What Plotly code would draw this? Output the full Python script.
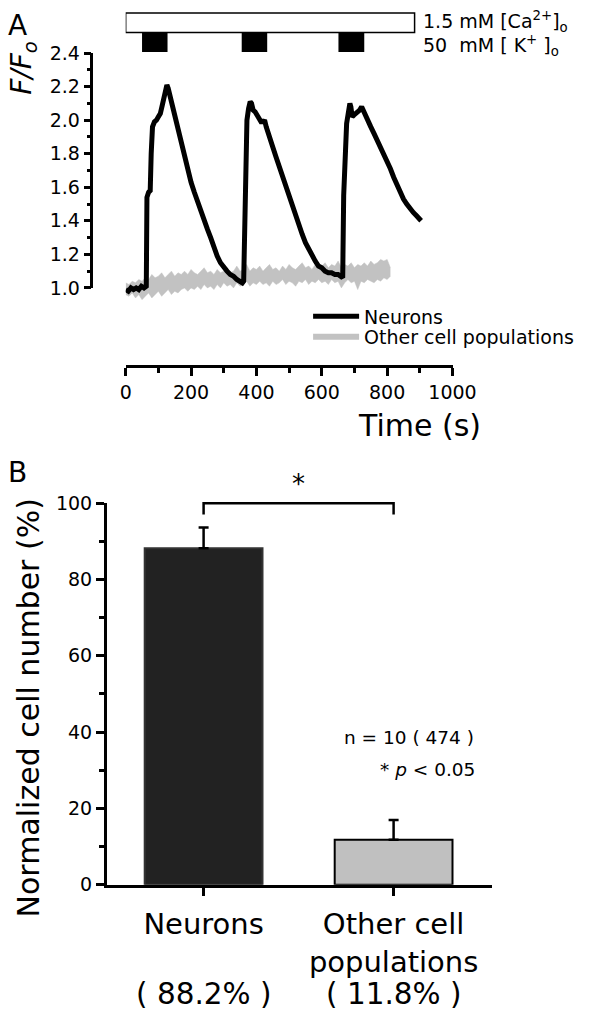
import plotly.graph_objects as go

W, H = 600, 1021
def fx(p):
    return p / W
def fy(p):
    return 1 - p / H

FONT = "DejaVu Sans"

# ---------------- Panel A data ----------------
neuron_t = [0, 8, 16, 24, 32, 40, 48, 56, 63, 65,
            70, 75, 78, 82, 88, 94, 100, 106, 112, 117,
            122, 126, 130, 135, 140, 146, 152, 160, 170, 180,
            190, 200, 210, 220, 230, 240, 250, 260, 270, 280,
            290, 300, 310, 320, 330, 340, 350, 357, 361, 364,
            367, 371, 376, 381, 385, 390, 396, 402, 408, 414,
            420, 425, 430, 436, 442, 450, 460, 470, 480, 490,
            500, 510, 520, 530, 540, 550, 560, 570, 580, 590,
            600, 610, 620, 630, 640, 650, 658, 664, 667, 671,
            676, 681, 686, 689, 693, 698, 704, 710, 716, 722,
            728, 734, 740, 750, 760, 770, 780, 790, 800, 810,
            820, 830, 840, 850, 860, 870, 880, 890, 900, 904]
neuron_f = [0.99, 0.98, 1.00, 0.99, 1.00, 0.99, 1.01, 1.00, 1.01, 1.54,
            1.57, 1.58, 1.80, 1.96, 1.99, 2.00, 2.02, 2.04, 2.09, 2.14,
            2.19, 2.21, 2.19, 2.15, 2.10, 2.04, 1.99, 1.93, 1.85, 1.77,
            1.70, 1.63, 1.57, 1.51, 1.45, 1.40, 1.35, 1.30, 1.24, 1.19,
            1.15, 1.12, 1.10, 1.08, 1.07, 1.05, 1.04, 1.03, 1.04, 1.50,
            1.85, 2.00, 2.07, 2.11, 2.10, 2.06, 2.05, 2.03, 2.01, 1.99,
            1.99, 2.00, 1.96, 1.93, 1.89, 1.84, 1.78, 1.72, 1.66, 1.60,
            1.54, 1.48, 1.42, 1.37, 1.32, 1.27, 1.23, 1.19, 1.16, 1.13,
            1.12, 1.10, 1.09, 1.09, 1.08, 1.08, 1.07, 1.06, 1.55, 1.86,
            1.98, 2.04, 2.10, 2.08, 2.02, 2.03, 2.04, 2.05, 2.06, 2.08,
            2.05, 2.04, 2.00, 1.96, 1.92, 1.88, 1.84, 1.80, 1.75, 1.71,
            1.66, 1.61, 1.57, 1.53, 1.50, 1.47, 1.45, 1.43, 1.41, 1.40]

other_t = [0, 10, 20, 30, 40, 50, 60, 70, 80, 90,
           100, 110, 120, 130, 140, 150, 160, 170, 180, 190,
           200, 210, 220, 230, 240, 250, 260, 270, 280, 290,
           300, 310, 320, 330, 340, 350, 360, 370, 380, 390,
           400, 410, 420, 430, 440, 450, 460, 470, 480, 490,
           500, 510, 520, 530, 540, 550, 560, 570, 580, 590,
           600, 610, 620, 630, 640, 650, 660, 670, 680, 690,
           700, 710, 720, 730, 740, 750, 760, 770, 780, 790,
           800, 810]
other_upper = [1.03, 1.02, 1.04, 1.03, 1.05, 1.04, 1.06, 1.05, 1.08, 1.06,
               1.07, 1.09, 1.06, 1.08, 1.10, 1.07, 1.09, 1.08, 1.10, 1.08,
               1.11, 1.09, 1.08, 1.10, 1.12, 1.09, 1.10, 1.08, 1.11, 1.09,
               1.10, 1.12, 1.09, 1.10, 1.13, 1.10, 1.11, 1.14, 1.10, 1.12,
               1.11, 1.13, 1.10, 1.12, 1.14, 1.11, 1.12, 1.10, 1.13, 1.11,
               1.14, 1.12, 1.11, 1.13, 1.15, 1.12, 1.13, 1.11, 1.14, 1.12,
               1.13, 1.15, 1.12, 1.14, 1.13, 1.16, 1.12, 1.14, 1.13, 1.15,
               1.12, 1.14, 1.13, 1.15, 1.13, 1.16, 1.14, 1.15, 1.17, 1.16,
               1.17, 1.12]
other_lower = [0.96, 0.95, 0.97, 0.94, 0.96, 0.93, 0.95, 0.97, 0.94, 0.96,
               0.98, 0.95, 0.97, 0.99, 0.96, 0.98, 0.97, 0.99, 1.00, 0.98,
               1.00, 0.99, 1.01, 0.99, 1.02, 1.00, 1.01, 0.99, 1.02, 1.00,
               1.03, 1.01, 1.02, 1.00, 1.03, 1.01, 1.02, 1.04, 1.01, 1.03,
               1.02, 1.04, 1.02, 1.03, 1.01, 1.04, 1.02, 1.03, 1.05, 1.02,
               1.04, 1.03, 1.01, 1.04, 1.03, 1.05, 1.02, 1.04, 1.03, 1.05,
               1.03, 1.04, 1.02, 1.05, 1.03, 1.04, 1.00, 1.03, 1.05, 1.03,
               1.04, 0.99, 1.04, 1.03, 1.05, 1.04, 1.03, 1.05, 1.04, 1.06,
               1.05, 1.07]

ca_on, ca_off = 0, 884
k_on = [50, 355, 651]
k_off = [128, 433, 730]

# ---------------- Panel B data ----------------
categories = ["Neurons", "Other cell populations"]
cat_ticktext = ["Neurons", "Other cell<br>populations"]
pct_mean = [88.2, 11.8]
pct_err = [5.4, 5.2]
n_cells = 10
n_total = 474
sig_level = 100
sig_drop = 3

# ---------------- geometry (pixels) ----------------
A_X0, A_X1 = 126, 470          # time 0 .. 1000
A_Y1, A_Y24 = 283, 43          # F/F0 1.0 .. 2.4
A_YAX = 92
A_XAX = 363
A_SCALE = (A_Y1 - A_Y24) / 1.4
A_DATA_BOTTOM = 305

B_Y0, B_Y100 = 893, 503
B_SCALE = (B_Y0 - B_Y100) / 100.0
B_XL, B_XR = 106, 512
B_C0, B_C1 = 208, 408
B_DATA_TOP = 465

fig = go.Figure()

# gray band (other cell populations)
fig.add_trace(go.Scatter(x=other_t, y=other_lower, mode="lines",
                         line=dict(color="#c2c2c2", width=0.5),
                         showlegend=False, hoverinfo="skip",
                         xaxis="x", yaxis="y3"))
fig.add_trace(go.Scatter(x=other_t, y=other_upper, mode="lines",
                         line=dict(color="#c2c2c2", width=0.5),
                         fill="tonexty", fillcolor="#c2c2c2",
                         showlegend=False, hoverinfo="skip",
                         xaxis="x", yaxis="y3"))
# neurons
fig.add_trace(go.Scatter(x=neuron_t, y=neuron_f, mode="lines",
                         line=dict(color="black", width=5),
                         name="Neurons", legend="legend",
                         xaxis="x", yaxis="y3"))
# legend entry for the gray band
fig.add_trace(go.Scatter(x=[None], y=[None], mode="lines",
                         line=dict(color="#c2c2c2", width=6),
                         name="Other cell populations", legend="legend2",
                         xaxis="x4", yaxis="y"))

# bars
fig.add_trace(go.Bar(x=categories, y=pct_mean, width=0.62,
                     marker=dict(color=["#222222", "#c0c0c0"],
                                 line=dict(color=["#333333", "black"], width=2)),
                     error_y=dict(type="data", array=pct_err,
                                  arrayminus=[0, 0], symmetric=False,
                                  color="black", thickness=2.5, width=5),
                     showlegend=False, xaxis="x2", yaxis="y2"))
# significance bracket
fig.add_trace(go.Scatter(x=[categories[0], categories[0], categories[1], categories[1]],
                         y=[sig_level - sig_drop, sig_level, sig_level, sig_level - sig_drop],
                         mode="lines", line=dict(color="black", width=2.5),
                         showlegend=False, hoverinfo="skip",
                         xaxis="x2", yaxis="y4"))

axis_common = dict(showline=True, linecolor="black", linewidth=2.5,
                   ticks="outside", tickcolor="black", tickwidth=2.5,
                   showgrid=False, zeroline=False,
                   tickfont=dict(family=FONT, size=19, color="black"))

# stimulus shapes
shapes = [dict(type="rect", xref="x", yref="paper", x0=ca_on, x1=ca_off,
               y0=fy(22), y1=fy(2), line=dict(color="black", width=1.5),
               fillcolor="white")]
for a, b in zip(k_on, k_off):
    shapes.append(dict(type="rect", xref="x", yref="paper", x0=a, x1=b,
                       y0=fy(42), y1=fy(22), line=dict(width=0),
                       fillcolor="black"))

annotations = [
    dict(text="A", x=fx(0), y=fy(15), xref="paper", yref="paper",
         xanchor="left", yanchor="middle", showarrow=False,
         font=dict(family=FONT, size=28, color="black")),
    dict(text="B", x=fx(0), y=fy(472), xref="paper", yref="paper",
         xanchor="left", yanchor="middle", showarrow=False,
         font=dict(family=FONT, size=28, color="black")),
    dict(text="<i>F/F<sub>o</sub></i>", x=fx(19), y=fy(58), xref="paper", yref="paper",
         xanchor="center", yanchor="middle", showarrow=False, textangle=-90,
         font=dict(family=FONT, size=28, color="black")),
    dict(text="Time (s)", x=fx(435), y=fy(424), xref="paper", yref="paper",
         xanchor="center", yanchor="middle", showarrow=False,
         font=dict(family=FONT, size=30, color="black")),
    dict(text="1.5 mM [Ca<sup>2+</sup>]<sub>o</sub>", x=fx(437), y=fy(11),
         xref="paper", yref="paper", xanchor="left", yanchor="middle",
         showarrow=False, font=dict(family=FONT, size=19, color="black")),
    dict(text="50\u00a0 mM [\u00a0K<sup>+</sup>\u00a0]<sub>o</sub>", x=fx(437), y=fy(35),
         xref="paper", yref="paper", xanchor="left", yanchor="middle",
         showarrow=False, font=dict(family=FONT, size=19, color="black")),
    dict(text="Normalized cell number (%)", x=fx(24), y=fy(712),
         xref="paper", yref="paper", xanchor="center", yanchor="middle",
         showarrow=False, textangle=-90,
         font=dict(family=FONT, size=30, color="black")),
    dict(text="*", x=0.5, y=sig_level, xref="x2", yref="y4", yshift=19,
         xanchor="center", yanchor="middle", showarrow=False,
         font=dict(family=FONT, size=26, color="black")),
    dict(text=f"n = {n_cells} ( {n_total} )", x=fx(495), y=fy(743),
         xref="paper", yref="paper", xanchor="right", yanchor="middle",
         showarrow=False, font=dict(family=FONT, size=18.5, color="black")),
    dict(text="* <i>p</i> < 0.05", x=fx(496), y=fy(775),
         xref="paper", yref="paper", xanchor="right", yanchor="middle",
         showarrow=False, font=dict(family=FONT, size=18.5, color="black")),
]
for i, v in enumerate(pct_mean):
    annotations.append(dict(text=f"( {v}% )", x=i, y=fy(1005), xref="x2", yref="paper",
                            xanchor="center", yanchor="middle", showarrow=False,
                            font=dict(family=FONT, size=29.5, color="black")))

legend_common = dict(xanchor="left", yanchor="middle", bgcolor="rgba(0,0,0,0)",
                     borderwidth=0, itemwidth=46, tracegroupgap=0,
                     font=dict(family=FONT, size=19, color="black"))

fig.update_layout(
    width=W, height=H, autosize=False,
    margin=dict(l=0, r=0, t=0, b=0, pad=0),
    paper_bgcolor="white", plot_bgcolor="rgba(0,0,0,0)",
    font=dict(family=FONT, color="black"),
    showlegend=True,
    legend=dict(x=fx(318), y=fy(312), **legend_common),
    legend2=dict(x=fx(318), y=fy(333), **legend_common),
    # panel A: visible time axis (free, below the data)
    xaxis=dict(domain=[fx(A_X0), fx(A_X1)], range=[0, 1000], anchor="free",
               position=fy(A_XAX), tick0=0, dtick=200, ticklen=8,
               minor=dict(dtick=100, ticklen=5, tickwidth=2.5, tickcolor="black", ticks="outside"),
               **axis_common),
    # helper x axis that carries the visible F/F0 axis line at its left edge
    xaxis4=dict(domain=[fx(A_YAX), fx(A_X1)], range=[0, 1], anchor="y",
                visible=False, showgrid=False, zeroline=False),
    yaxis=dict(domain=[fy(A_Y1), fy(A_Y24)], range=[1.0, 2.4], anchor="x4",
               tick0=1.0, dtick=0.2, tickformat=".1f", ticklen=7,
               minor=dict(dtick=0.1, ticklen=4, tickwidth=2.5, tickcolor="black", ticks="outside"),
               **axis_common),
    # data axis for the traces (same scale, extended below 1.0)
    yaxis3=dict(domain=[fy(A_DATA_BOTTOM), fy(A_Y24)],
                range=[1.0 - (A_DATA_BOTTOM - A_Y1) / A_SCALE, 2.4],
                anchor="x", visible=False, showgrid=False, zeroline=False),
    # panel B
    xaxis2=dict(domain=[fx(B_XL), fx(B_XR)], anchor="y2", type="category",
                range=[(B_XL - B_C0) / (B_C1 - B_C0), (B_XR - B_C0) / (B_C1 - B_C0)],
                tickvals=categories, ticktext=cat_ticktext, ticklen=8,
                ticklabelstandoff=4,
                **{**axis_common, "tickfont": dict(family=FONT, size=29, color="black")}),
    yaxis2=dict(domain=[fy(B_Y0), fy(B_Y100)], range=[0, 100], anchor="x2",
                tick0=0, dtick=20, ticklen=8,
                minor=dict(dtick=10, ticklen=5, tickwidth=2.5, tickcolor="black", ticks="outside"),
                **axis_common),
    yaxis4=dict(domain=[fy(B_Y0), fy(B_DATA_TOP)],
                range=[0, 100 + (B_Y100 - B_DATA_TOP) / B_SCALE],
                anchor="x2", visible=False, showgrid=False, zeroline=False),
    shapes=shapes,
    annotations=annotations,
)

fig.write_html("out.html", config={"displayModeBar": False},
               post_script="document.body.style.margin='0';")
